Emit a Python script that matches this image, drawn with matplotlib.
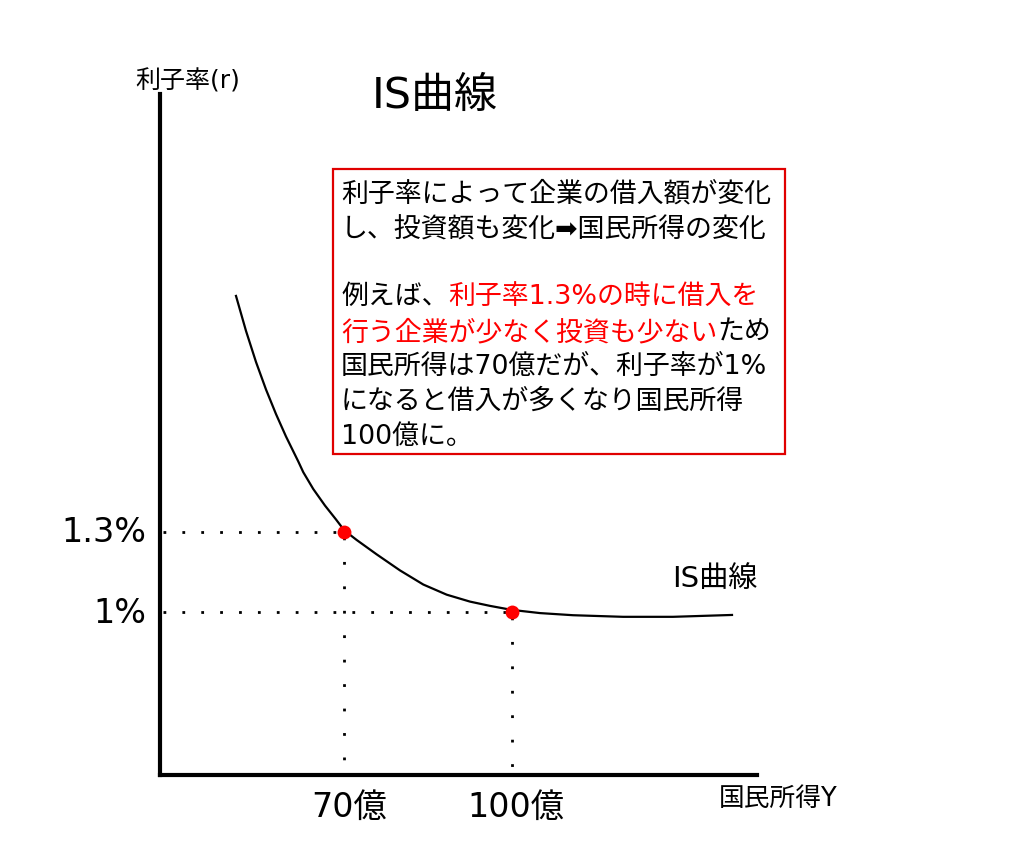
import matplotlib
matplotlib.use('Agg')
import matplotlib.pyplot as plt
from matplotlib.patches import Rectangle

plt.rcParams['font.family'] = ['DejaVu Sans', 'Noto Sans CJK JP']

# IS curve (national income in 億, interest rate in %)
curve_x = [50.59, 52.38, 54.18, 55.97, 57.76, 59.55, 61.76, 62.65, 64.44,
           66.54, 68.51, 70.00, 72.22, 75.81, 79.98, 84.16, 88.35, 92.53,
           96.11, 100.0, 105.07, 110.99, 119.95, 128.9, 139.48]
curve_y = [2.185, 2.054, 1.937, 1.834, 1.742, 1.658, 1.564, 1.524, 1.461,
           1.399, 1.347, 1.306, 1.270, 1.216, 1.156, 1.103, 1.065, 1.039,
           1.023, 1.008, 0.996, 0.988, 0.982, 0.982, 0.989]

# highlighted points
point_x = [70, 100]
point_y = [1.3, 1.0]
x_labels = ['70億', '100億']
y_labels = ['1.3%', '1%']

W, H = 1024, 854


def px(x, y):
    # pixel position -> figure fraction
    return x / W, 1 - y / H


fig = plt.figure(figsize=(W / 100, H / 100), dpi=100)
fig.patch.set_facecolor('white')

# axes frame: y axis at x=160px, x axis at y=776px
ax = fig.add_axes([160 / W, (H - 776) / H, (757 - 160) / W, (776 - 95) / H])
ax.set_xlim(36.97, 143.96)
ax.set_ylim(0.389, 2.942)
for s in ['top', 'right']:
    ax.spines[s].set_visible(False)
for s in ['left', 'bottom']:
    ax.spines[s].set_linewidth(3)
    ax.spines[s].set_capstyle('projecting')
ax.set_xticks([])
ax.set_yticks([])
ax.patch.set_alpha(0)

# curve
ax.plot(curve_x, curve_y, color='black', lw=1.6, solid_joinstyle='round',
        zorder=3)

# dotted guides
x0, x1 = ax.get_xlim()
y0, y1 = ax.get_ylim()
for xv, yv in zip(point_x, point_y):
    ax.plot([x0 + 0.5, xv], [yv, yv], color='black', lw=2.0,
            linestyle=(0, (1, 5.8)), zorder=2)
    ax.plot([xv, xv], [yv, y0 + 0.03], color='black', lw=2.0,
            linestyle=(7, (1, 7.8)), zorder=2)

ax.plot(point_x, point_y, 'o', color='red', markersize=10, zorder=4,
        markeredgewidth=0)

# tick-like labels
for xv, lab in zip(point_x, x_labels):
    ax.text(xv + 0.8, -0.046, lab, transform=ax.get_xaxis_transform(),
            ha='center', va='center', fontsize=24)
for yv, lab in zip(point_y, y_labels):
    ax.text(-0.022, yv, lab, transform=ax.get_yaxis_transform(),
            ha='right', va='center', fontsize=24)

fig.text(*px(672, 579), 'IS曲線', ha='left', va='center', fontsize=21)

# axis names and title
fig.text(*px(135, 81), '利子率(r)', ha='left', va='center', fontsize=18)
fig.text(*px(719, 799), '国民所得Y', ha='left', va='center', fontsize=18.5)
fig.text(*px(372, 96), 'IS曲線', ha='left', va='center', fontsize=31)

# explanation box
bx0, by0 = px(333, 455)
bx1, by1 = px(785, 170)
fig.patches.append(Rectangle((bx0, by0), bx1 - bx0, by1 - by0,
                             transform=fig.transFigure, fill=False,
                             edgecolor='#e00000', linewidth=1.6))

fs = 19.4
lines = [
    (195, [('利子率によって企業の借入額が変化', 'black')]),
    (230, [('し、投資額も変化➡国民所得の変化', 'black')]),
    (297, [('例えば、', 'black'), ('利子率1.3%の時に借入を', 'red')]),
    (333, [('行う企業が少なく投資も少ない', 'red'), ('ため', 'black')]),
    (367, [('国民所得は70億だが、利子率が1%', 'black')]),
    (402, [('になると借入が多くなり国民所得', 'black')]),
    (437, [('100億に。', 'black')]),
]
for ypos, segs in lines:
    first, col = segs[0]
    t = fig.text(*px(341, ypos), first, ha='left', va='center',
                 fontsize=fs, color=col)
    for seg, col in segs[1:]:
        t = ax.annotate(seg, xy=(1, 0.5), xycoords=t, ha='left', va='center',
                        fontsize=fs, color=col, annotation_clip=False)

fig.savefig('out.png', dpi=100, facecolor='white')
